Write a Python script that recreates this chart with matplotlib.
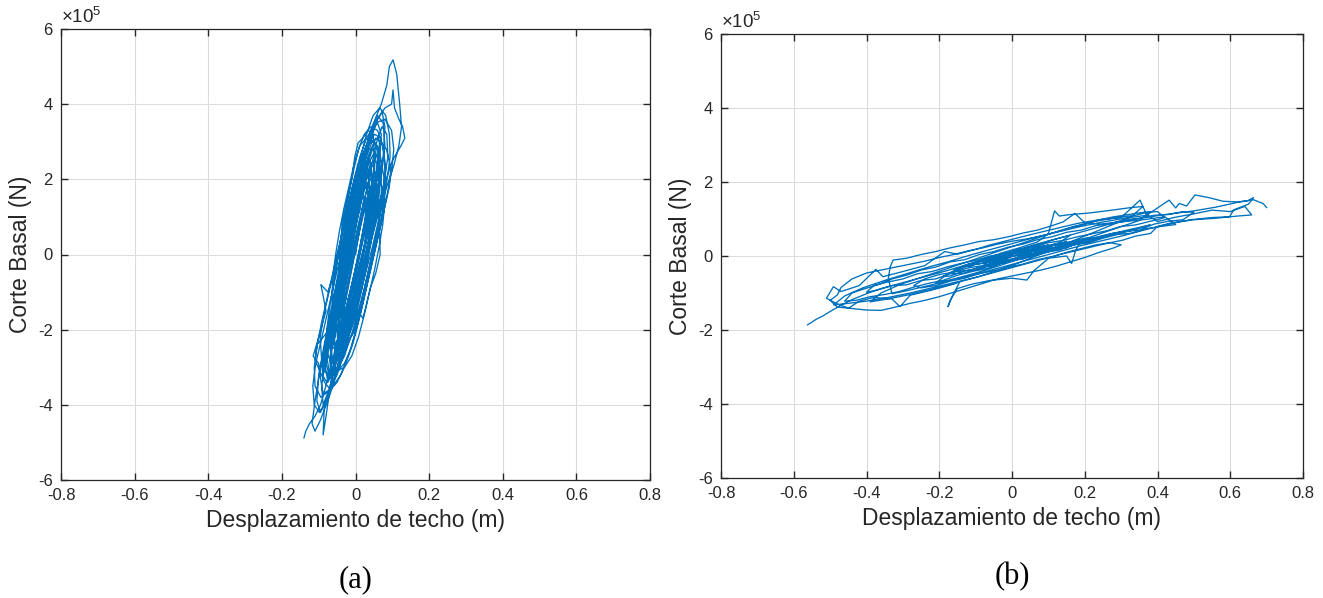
import numpy as np
import matplotlib
matplotlib.use('Agg')
import matplotlib.pyplot as plt

plt.rcParams['font.family'] = ['Liberation Sans', 'DejaVu Sans']
plt.rcParams['axes.unicode_minus'] = False
plt.rcParams['mathtext.fontset'] = 'custom'
plt.rcParams['mathtext.rm'] = 'Liberation Sans'

# (a) roof displacement [m] vs base shear [x1e5 N]
pts_a = [
    (0.000, 0.0), (0.010, 0.6), (0.022, 1.2), (0.030, 1.5), (0.040, 1.3), (0.030, 0.5), (0.010, -0.4),
    (-0.012, -1.1), (-0.028, -1.6), (-0.036, -1.8), (-0.040, -1.5),
    (-0.035, -1.0), (-0.020, -0.2), (-0.004, 0.6), (0.012, 1.4), (0.030, 2.0), (0.042, 2.2), (0.050, 1.9),
    (0.045, 1.2), (0.030, 0.4), (0.012, -0.4), (-0.010, -1.2), (-0.032, -2.0), (-0.050, -2.5), (-0.058, -2.3),
    (-0.055, -1.8), (-0.040, -1.0), (-0.022, -0.1), (-0.005, 0.9), (0.015, 1.8), (0.035, 2.6), (0.052, 3.0),
    (0.064, 2.8), (0.068, 2.2), (0.055, 1.3), (0.036, 0.4), (0.015, -0.5), (-0.010, -1.4), (-0.035, -2.3),
    (-0.058, -3.0), (-0.072, -3.2), (-0.080, -2.9),
    (-0.075, -2.2), (-0.060, -1.4), (-0.042, -0.5), (-0.022, 0.5), (-0.004, 1.5), (0.018, 2.4), (0.040, 3.2),
    (0.060, 3.7), (0.075, 3.5), (0.080, 2.9), (0.070, 2.1), (0.050, 1.0), (0.030, 0.0), (0.005, -1.0),
    (-0.020, -2.0), (-0.048, -3.0), (-0.075, -3.8), (-0.095, -4.2), (-0.105, -3.9),
    (-0.100, -3.2), (-0.085, -2.4), (-0.065, -1.4), (-0.045, -0.4), (-0.025, 0.6), (-0.005, 1.6), (0.020, 2.6),
    (0.045, 3.4), (0.070, 4.0), (0.085, 4.5), (0.092, 5.0), (0.102, 5.18), (0.112, 4.8), (0.120, 4.0),
    (0.125, 3.4), (0.118, 2.9), (0.105, 2.4), (0.085, 1.8), (0.060, 1.0), (0.035, 0.1), (0.010, -0.9),
    (-0.018, -2.0), (-0.045, -3.0), (-0.072, -3.8), (-0.095, -4.4), (-0.110, -4.7), (-0.118, -4.5),
    (-0.110, -3.9), (-0.095, -3.0), (-0.075, -2.0), (-0.055, -1.0), (-0.035, 0.0), (-0.012, 1.0), (0.010, 2.0),
    (0.035, 2.9), (0.060, 3.6), (0.080, 3.9), (0.098, 4.0), (0.102, 4.38), (0.106, 3.9), (0.118, 3.6),
    (0.128, 3.4), (0.134, 3.1), (0.124, 2.9), (0.100, 2.5), (0.080, 1.9), (0.058, 1.1), (0.035, 0.3),
    (0.012, -0.6), (-0.012, -1.6), (-0.040, -2.7), (-0.065, -3.5), (-0.085, -4.1), (-0.088, -4.8), (-0.080, -4.3),
    (-0.070, -3.6), (-0.058, -2.8), (-0.040, -1.8), (-0.020, -0.8), (0.000, 0.2), (0.020, 1.2), (0.040, 2.2),
    (0.058, 3.0), (0.072, 3.4), (0.085, 3.2), (0.088, 2.6), (0.075, 1.8), (0.055, 0.9), (0.032, -0.1),
    (0.008, -1.1), (-0.018, -2.1), (-0.045, -3.0), (-0.070, -3.6), (-0.088, -3.7), (-0.095, -3.3),
    (-0.100, -2.9), (-0.115, -2.7), (-0.100, -2.2), (-0.080, -1.5), (-0.094, -0.8), (-0.075, -1.0),
    (-0.055, -0.4), (-0.035, 0.4), (-0.015, 1.3), (0.005, 2.1), (0.025, 2.8), (0.045, 3.3), (0.060, 3.5),
    (0.070, 3.2), (0.066, 2.5), (0.050, 1.7), (0.030, 0.8), (0.010, -0.1), (-0.012, -1.0), (-0.035, -2.0),
    (-0.058, -2.9), (-0.078, -3.4), (-0.090, -3.2),
    (-0.082, -2.6), (-0.065, -1.8), (-0.048, -1.0), (-0.030, -0.1), (-0.010, 0.9), (0.010, 1.8), (0.030, 2.6),
    (0.045, 3.0), (0.058, 2.9), (0.062, 2.2), (0.064, 1.2), (0.067, 0.0), (0.055, -0.5), (0.040, -0.9),
    (0.028, -1.4), (0.020, -1.7), (0.008, -1.5), (-0.010, -1.9), (-0.030, -2.6), (-0.050, -3.2),
    (-0.062, -3.4), (-0.068, -3.0),
    (-0.062, -2.3), (-0.055, -1.5), (-0.045, -0.6), (-0.040, 0.3), (-0.036, 0.84), (-0.028, 1.2),
    (-0.015, 1.8), (-0.009, 2.06), (-0.002, 2.6), (0.007, 2.97), (0.020, 3.1), (0.035, 3.3), (0.048, 3.2),
    (0.052, 2.6), (0.045, 1.8), (0.030, 1.0), (0.015, 0.2), (-0.002, -0.6), (-0.020, -1.5), (-0.040, -2.4),
    (-0.060, -3.1), (-0.075, -3.4), (-0.082, -3.0),
    (-0.070, -2.4), (-0.050, -1.4), (-0.030, -0.4), (-0.010, 0.6), (0.010, 1.6), (0.028, 2.3), (0.040, 2.5),
    (0.045, 2.0), (0.035, 1.2), (0.018, 0.4), (0.000, -0.5), (-0.020, -1.4), (-0.040, -2.2), (-0.055, -2.6),
    (-0.060, -2.2),
    (-0.048, -1.5), (-0.032, -0.7), (-0.015, 0.2), (0.002, 1.0), (0.020, 1.8), (0.035, 2.4), (0.050, 2.7),
    (0.058, 2.4), (0.052, 1.6), (0.038, 0.8), (0.020, 0.0), (0.002, -0.8), (-0.018, -1.6), (-0.038, -2.3),
    (-0.052, -2.7), (-0.058, -2.4),
    (-0.052, -1.7), (-0.040, -0.9), (-0.025, 0.0), (-0.008, 0.9), (0.010, 1.8), (0.028, 2.6), (0.045, 3.2),
    (0.060, 3.6), (0.072, 3.8), (0.080, 3.4), (0.075, 2.6), (0.060, 1.8), (0.042, 0.9), (0.022, 0.0),
    (0.000, -0.9), (-0.025, -1.9), (-0.050, -2.8), (-0.072, -3.6), (-0.088, -4.0), (-0.092, -3.5),
    (-0.080, -2.7), (-0.062, -1.8), (-0.045, -0.9), (-0.025, 0.1), (-0.005, 1.0), (0.015, 1.9), (0.035, 2.6),
    (0.055, 3.1), (0.065, 3.0), (0.062, 2.3), (0.048, 1.4), (0.030, 0.5), (0.010, -0.4), (-0.010, -1.3),
    (-0.030, -2.2), (-0.050, -3.0), (-0.065, -3.3), (-0.070, -2.8),
    (-0.060, -2.0), (-0.042, -1.1), (-0.022, -0.2), (-0.004, 0.7), (0.014, 1.5), (0.030, 2.1), (0.042, 2.3),
    (0.044, 1.8), (0.032, 1.0), (0.015, 0.2), (-0.003, -0.6), (-0.022, -1.4), (-0.040, -2.0), (-0.048, -2.1),
    (-0.045, -1.6),
    (-0.030, -0.8), (-0.014, 0.0), (0.002, 0.8), (0.018, 1.5), (0.030, 1.9), (0.034, 1.6), (0.025, 0.9),
    (0.010, 0.1), (-0.008, -0.7), (-0.025, -1.4), (-0.038, -1.7), (-0.036, -1.2),
    (-0.022, -0.4), (-0.006, 0.4), (0.010, 1.2), (0.026, 1.9), (0.040, 2.4), (0.050, 2.5), (0.048, 1.9),
    (0.034, 1.1), (0.016, 0.3), (-0.004, -0.6), (-0.024, -1.5), (-0.044, -2.3), (-0.060, -2.9), (-0.066, -2.6),
    (-0.058, -1.8), (-0.042, -0.9), (-0.024, 0.0), (-0.006, 0.8), (0.012, 1.6), (0.030, 2.3), (0.046, 2.8),
    (0.054, 2.7), (0.050, 2.0), (0.036, 1.2), (0.018, 0.4), (0.000, -0.4), (-0.020, -1.2), (-0.040, -2.0),
    (-0.056, -2.5), (-0.060, -2.1),
    (-0.052, -2.6), (-0.060, -2.2), (-0.058, -1.6), (-0.050, -1.0), (-0.040, -0.4), (-0.028, 0.2),
    (-0.016, 0.8), (-0.004, 1.4), (0.008, 2.0), (0.020, 2.5), (0.034, 2.8), (0.050, 2.8), (0.062, 2.5),
    (0.070, 2.0), (0.070, 1.4), (0.062, 0.8), (0.050, 0.2), (0.036, -0.4), (0.022, -1.0), (0.008, -1.6),
    (-0.008, -2.1), (-0.026, -2.5), (-0.044, -2.7),
    (-0.070, -3.2), (-0.080, -2.6), (-0.078, -2.0), (-0.070, -1.4), (-0.060, -0.8), (-0.050, -0.2),
    (-0.040, 0.4), (-0.030, 1.0), (-0.018, 1.6), (-0.006, 2.2), (0.008, 2.8), (0.024, 3.2), (0.042, 3.4),
    (0.060, 3.3), (0.074, 2.9), (0.082, 2.3), (0.080, 1.7), (0.072, 1.1), (0.060, 0.5), (0.046, -0.1),
    (0.032, -0.7), (0.018, -1.3), (0.004, -1.9), (-0.012, -2.5), (-0.030, -3.0), (-0.050, -3.4),
    (-0.068, -3.6), (-0.084, -3.4),
    (-0.110, -2.8), (-0.104, -2.4), (-0.092, -1.8), (-0.078, -1.2), (-0.064, -0.6), (-0.050, 0.0),
    (-0.036, 0.6), (-0.022, 1.2), (-0.008, 1.8), (0.008, 2.4), (0.030, 2.9), (0.060, 3.1), (0.084, 2.8),
    (0.096, 2.3), (0.092, 1.8), (0.078, 1.2), (0.064, 0.6), (0.050, 0.0), (0.036, -0.6), (0.022, -1.2),
    (0.008, -1.8), (-0.008, -2.4), (-0.030, -2.9), (-0.060, -3.2), (-0.090, -3.1),
    (-0.096, -2.2), (-0.086, -1.6), (-0.072, -1.0), (-0.058, -0.4), (-0.044, 0.2), (-0.030, 0.8),
    (-0.016, 1.4), (0.002, 1.9), (0.026, 2.2), (0.052, 2.1), (0.072, 1.8), (0.078, 1.3), (0.068, 0.8),
    (0.054, 0.2), (0.040, -0.4), (0.026, -1.0), (0.012, -1.6), (-0.006, -2.1), (-0.030, -2.4),
    (-0.058, -2.5), (-0.080, -2.3),
    (-0.090, -3.0), (-0.082, -2.4), (-0.066, -1.8), (-0.052, -1.2), (-0.040, -0.6), (-0.030, 0.0),
    (-0.020, 0.6), (-0.010, 1.2), (0.002, 1.8), (0.016, 2.2), (0.032, 2.3), (0.046, 2.0), (0.052, 1.5),
    (0.050, 0.9), (0.042, 0.3), (0.030, -0.3), (0.018, -0.9), (0.004, -1.5), (-0.012, -2.0), (-0.030, -2.3),
    (-0.046, -2.2),
    (-0.050, -2.0), (-0.036, -1.4), (-0.022, -0.8), (-0.008, -0.2), (0.006, 0.4), (0.020, 1.0), (0.034, 1.6),
    (0.050, 2.0), (0.062, 1.8), (0.060, 1.2), (0.046, 0.6), (0.032, 0.0), (0.018, -0.6), (0.004, -1.2),
    (-0.010, -1.8), (-0.030, -2.2), (-0.048, -2.2),
    (-0.040, -1.4), (-0.026, -0.8), (-0.012, -0.2), (0.002, 0.4), (0.016, 1.0), (0.030, 1.4), (0.040, 1.2),
    (0.034, 0.6), (0.020, 0.0), (0.006, -0.6), (-0.008, -1.2), (-0.024, -1.6), (-0.036, -1.5),
    (-0.030, -0.9), (-0.018, -0.3), (-0.004, 0.3), (0.010, 0.9), (0.024, 1.5), (0.040, 2.0), (0.056, 2.2),
    (0.066, 1.9), (0.060, 1.3), (0.046, 0.7), (0.030, 0.1), (0.014, -0.5), (-0.002, -1.1), (-0.018, -1.7),
    (-0.036, -2.2), (-0.056, -2.4), (-0.068, -2.0),
    (-0.060, -1.4), (-0.046, -0.8), (-0.032, -0.2), (-0.018, 0.4), (-0.004, 1.0), (0.010, 1.5), (0.026, 1.8),
    (0.040, 1.6), (0.040, 1.0), (0.028, 0.4), (0.012, -0.2), (-0.004, -0.8), (-0.020, -1.4), (-0.040, -1.9),
    (-0.058, -2.0),
    (-0.056, -2.2), (-0.062, -1.6), (-0.062, -1.0), (-0.054, -0.4), (-0.044, 0.2), (-0.032, 0.8),
    (-0.018, 1.4), (-0.004, 2.0), (0.012, 2.6), (0.030, 3.1), (0.054, 3.5), (0.080, 3.6), (0.098, 3.3),
    (0.104, 2.8), (0.098, 2.2), (0.086, 1.6), (0.074, 1.0), (0.060, 0.4), (0.046, -0.2), (0.032, -0.8),
    (0.018, -1.4), (0.002, -2.0), (-0.016, -2.6), (-0.040, -3.2), (-0.068, -3.6), (-0.094, -3.8),
    (-0.110, -3.5), (-0.112, -3.0), (-0.104, -2.4),
    (-0.056, -1.8), (-0.064, -1.2), (-0.062, -0.6), (-0.054, 0.0), (-0.044, 0.6), (-0.032, 1.2),
    (-0.018, 1.8), (-0.004, 2.4), (0.012, 2.9), (0.030, 3.1), (0.050, 3.0), (0.068, 2.6), (0.078, 2.0),
    (0.080, 1.4), (0.074, 0.8), (0.064, 0.2), (0.052, -0.4), (0.038, -1.0), (0.024, -1.6), (0.008, -2.2),
    (-0.010, -2.7), (-0.030, -3.0), (-0.050, -3.1), (-0.066, -2.8),
    (-0.070, -2.2), (-0.062, -1.6), (-0.050, -1.0), (-0.036, -0.4), (-0.022, 0.2), (-0.010, 0.8),
    (0.002, 1.4), (0.016, 1.8), (0.032, 1.9), (0.042, 1.6), (0.044, 1.0), (0.036, 0.4), (0.024, -0.2),
    (0.010, -0.8), (-0.006, -1.3), (-0.022, -1.6), (-0.036, -1.5),
    (-0.046, -1.0), (-0.044, -0.4), (-0.036, 0.2), (-0.026, 0.8), (-0.014, 1.4), (0.000, 2.0), (0.014, 2.6),
    (0.030, 3.2), (0.048, 3.7), (0.066, 3.9), (0.082, 3.7), (0.092, 3.2), (0.094, 2.6), (0.086, 2.0),
    (0.074, 1.4), (0.060, 0.8), (0.046, 0.2), (0.030, -0.4), (0.014, -1.0), (-0.002, -1.6), (-0.020, -2.2),
    (-0.040, -2.8), (-0.060, -3.4), (-0.080, -3.9), (-0.098, -4.2), (-0.112, -4.0), (-0.116, -3.5),
    (-0.108, -2.9),
    (-0.096, -2.4), (-0.082, -1.8), (-0.068, -1.2), (-0.054, -0.6), (-0.040, 0.0), (-0.026, 0.6),
    (-0.012, 1.2), (0.002, 1.8), (0.018, 2.3), (0.036, 2.5), (0.050, 2.3), (0.058, 1.8), (0.056, 1.2),
    (0.046, 0.6), (0.032, 0.0), (0.018, -0.6), (0.002, -1.2), (-0.014, -1.8), (-0.032, -2.3), (-0.052, -2.7),
    (-0.070, -2.8), (-0.082, -2.5),
    (-0.060, -1.6), (-0.044, -1.0), (-0.030, -0.4), (-0.016, 0.2), (-0.002, 0.8), (0.012, 1.2), (0.026, 1.2),
    (0.030, 0.8), (0.024, 0.2), (0.012, -0.4), (-0.004, -0.9), (-0.020, -1.2), (-0.034, -1.1),
    (-0.040, -0.6), (-0.032, 0.0), (-0.022, 0.6), (-0.010, 1.2), (0.004, 1.8), (0.018, 2.4), (0.034, 2.9),
    (0.052, 3.2), (0.068, 3.1), (0.078, 2.7), (0.080, 2.1), (0.074, 1.5), (0.064, 0.9), (0.052, 0.3),
    (0.038, -0.3), (0.024, -0.9), (0.008, -1.5), (-0.010, -2.1), (-0.030, -2.7), (-0.052, -3.1),
    (-0.072, -3.3), (-0.086, -3.0),
    (-0.045, -1.2), (-0.028, -0.3), (-0.010, 0.6), (0.008, 1.4), (0.024, 2.0), (0.036, 2.2), (0.038, 1.7),
    (0.026, 0.9), (0.008, 0.0), (-0.012, -0.9), (-0.032, -1.8), (-0.048, -2.3), (-0.052, -1.9),
    (-0.040, -1.1), (-0.025, -0.2), (-0.008, 0.6), (0.010, 1.4), (0.020, 1.8), (0.022, 1.4), (0.010, 0.6),
    (-0.008, -0.3), (-0.028, -1.3), (-0.050, -2.3), (-0.072, -3.2), (-0.095, -4.0), (-0.110, -4.3),
    (-0.125, -4.5), (-0.135, -4.7), (-0.140, -4.88),
]

# (b) roof displacement [m] vs base shear [x1e5 N]
pts_b = [
    (-0.562, -1.86), (-0.552, -1.80), (-0.540, -1.72), (-0.520, -1.62), (-0.500, -1.50), (-0.470, -1.33),
    (-0.440, -1.18), (-0.400, -1.02), (-0.360, -0.88), (-0.300, -0.72), (-0.240, -0.56), (-0.180, -0.40),
    (-0.120, -0.22), (-0.060, -0.04), (0.000, 0.12), (0.060, 0.30), (0.120, 0.46), (0.160, 0.56),
    (0.130, 0.36), (0.080, 0.15), (0.020, -0.08), (-0.040, -0.28), (-0.100, -0.46), (-0.160, -0.62),
    (-0.210, -0.74), (-0.180, -0.50), (-0.130, -0.30), (-0.080, -0.10), (-0.030, 0.08), (0.020, 0.22),
    (0.070, 0.38), (0.100, 0.60), (0.117, 1.22), (0.130, 1.08), (0.160, 1.12), (0.210, 1.16), (0.260, 1.22),
    (0.320, 1.30), (0.360, 1.34), (0.330, 1.08), (0.280, 0.86), (0.220, 0.62), (0.170, 0.42), (0.120, 0.22),
    (0.070, 0.02), (0.020, -0.18), (-0.040, -0.40), (-0.100, -0.58), (-0.160, -0.74), (-0.220, -0.90),
    (-0.280, -1.04), (-0.340, -1.16), (-0.390, -1.24), (-0.360, -1.00), (-0.310, -0.78), (-0.250, -0.58),
    (-0.190, -0.38), (-0.130, -0.18), (-0.070, 0.02), (-0.010, 0.22), (0.050, 0.42), (0.110, 0.62),
    (0.170, 0.80), (0.230, 0.94), (0.290, 1.04), (0.340, 1.10), (0.380, 1.20), (0.350, 0.96), (0.290, 0.76),
    (0.230, 0.56), (0.190, 0.42), (0.175, 0.15), (0.164, -0.20), (0.150, 0.00), (0.100, -0.06),
    (0.090, -0.15), (0.060, -0.40), (0.041, -0.65), (0.000, -0.60), (-0.060, -0.66), (-0.110, -0.76),
    (-0.150, -0.88), (-0.170, -1.20), (-0.176, -1.37), (-0.165, -1.10), (-0.143, -0.69), (-0.160, -0.76),
    (-0.220, -0.92), (-0.280, -1.06), (-0.308, -1.37), (-0.330, -1.16), (-0.380, -1.12), (-0.420, -1.22),
    (-0.449, -1.41), (-0.480, -1.30), (-0.510, -1.14), (-0.491, -0.83), (-0.470, -0.96), (-0.420, -0.80),
    (-0.374, -0.36), (-0.355, -0.56), (-0.300, -0.42), (-0.240, -0.26), (-0.185, 0.12), (-0.150, 0.05),
    (-0.100, 0.18), (-0.060, 0.30), (0.000, 0.45), (0.060, 0.60), (0.120, 0.74), (0.180, 0.88),
    (0.240, 0.98), (0.300, 1.04), (0.352, 1.51), (0.370, 1.12), (0.400, 0.93), (0.450, 1.05), (0.500, 1.14),
    (0.550, 1.24), (0.600, 1.20), (0.640, 1.34), (0.659, 1.11), (0.620, 1.08), (0.560, 1.02), (0.500, 0.98),
    (0.440, 0.90), (0.400, 0.80), (0.381, 0.61), (0.340, 0.54), (0.305, 0.43), (0.260, 0.34), (0.200, 0.20),
    (0.140, 0.06), (0.080, -0.10), (0.020, -0.26), (-0.040, -0.42), (-0.100, -0.58), (-0.160, -0.72),
    (-0.220, -0.86), (-0.280, -1.00), (-0.340, -1.12), (-0.400, -1.22), (-0.450, -1.28), (-0.490, -1.32),
    (-0.460, -1.08), (-0.410, -0.86), (-0.350, -0.66), (-0.290, -0.48), (-0.230, -0.30), (-0.170, -0.14),
    (-0.110, 0.04), (-0.050, 0.20), (0.010, 0.36), (0.070, 0.52), (0.130, 0.66), (0.190, 0.80),
    (0.250, 0.92), (0.310, 1.02), (0.370, 1.10), (0.432, 1.51), (0.450, 1.30), (0.460, 1.42), (0.480, 1.35),
    (0.503, 1.65), (0.540, 1.58), (0.580, 1.48), (0.620, 1.46), (0.650, 1.50), (0.664, 1.58), (0.650, 1.40),
    (0.610, 1.25), (0.598, 1.06), (0.550, 1.04), (0.490, 0.98), (0.430, 0.86), (0.370, 0.72), (0.310, 0.56),
    (0.250, 0.42), (0.190, 0.28), (0.130, 0.12), (0.070, -0.04), (0.010, -0.20), (-0.050, -0.36),
    (-0.110, -0.52), (-0.170, -0.66), (-0.230, -0.80), (-0.290, -0.94), (-0.330, -1.02), (-0.340, -0.60),
    (-0.335, -0.30), (-0.327, -0.11), (-0.290, -0.06), (-0.250, 0.04), (-0.210, 0.12), (-0.170, 0.22),
    (-0.130, 0.30), (-0.091, 0.39), (-0.050, 0.44), (-0.010, 0.52), (0.030, 0.62), (0.070, 0.70),
    (0.110, 0.82), (0.140, 0.92), (0.173, 1.15), (0.200, 0.90), (0.240, 0.86), (0.300, 0.92), (0.360, 0.98),
    (0.420, 1.06), (0.450, 0.85), (0.410, 0.80), (0.370, 0.74), (0.330, 0.62), (0.290, 0.58), (0.250, 0.48),
    (0.210, 0.36), (0.170, 0.30), (0.130, 0.16), (0.090, 0.10), (0.050, -0.02), (0.010, -0.12),
    (-0.030, -0.20), (-0.070, -0.34), (-0.110, -0.42), (-0.150, -0.52), (-0.190, -0.66), (-0.230, -0.74),
    (-0.270, -0.84), (-0.310, -0.96), (-0.350, -1.04), (-0.390, -1.10), (-0.430, -1.20), (-0.460, -1.22),
    (-0.440, -1.00), (-0.410, -0.90), (-0.370, -0.78), (-0.330, -0.62), (-0.290, -0.52), (-0.250, -0.38),
    (-0.210, -0.30), (-0.170, -0.16), (-0.130, -0.10), (-0.090, 0.04), (-0.050, 0.12), (-0.010, 0.24),
    (0.030, 0.32), (0.070, 0.44), (0.110, 0.52), (0.150, 0.64), (0.190, 0.70), (0.230, 0.82), (0.270, 0.88),
    (0.310, 0.98), (0.350, 1.02), (0.390, 1.10), (0.430, 1.12), (0.470, 1.20), (0.500, 1.18),
    (0.470, 0.98), (0.430, 0.94), (0.390, 0.86), (0.350, 0.70), (0.310, 0.66), (0.270, 0.60), (0.230, 0.44),
    (0.190, 0.40), (0.150, 0.22), (0.110, 0.18), (0.070, 0.08), (0.030, -0.08), (-0.010, -0.10),
    (-0.050, -0.26), (-0.090, -0.30), (-0.130, -0.46), (-0.170, -0.48), (-0.210, -0.62), (-0.250, -0.66),
    (-0.290, -0.78), (-0.330, -0.80), (-0.370, -0.92), (-0.400, -0.98), (-0.380, -0.80),
    (-0.340, -0.70), (-0.300, -0.62), (-0.260, -0.48), (-0.220, -0.42), (-0.180, -0.30), (-0.140, -0.20),
    (-0.100, -0.12), (-0.060, 0.00), (-0.020, 0.06), (0.020, 0.18), (0.060, 0.24), (0.100, 0.36),
    (0.140, 0.42), (0.180, 0.52), (0.220, 0.60), (0.260, 0.68), (0.300, 0.80), (0.340, 0.84), (0.380, 0.94),
    (0.400, 0.98), (0.420, 1.04), (0.400, 1.20), (0.360, 1.18), (0.320, 1.12), (0.280, 1.06),
    (0.240, 0.98), (0.200, 0.86), (0.160, 0.76), (0.120, 0.64), (0.080, 0.54), (0.040, 0.46),
    (0.000, 0.40), (-0.040, 0.32), (-0.080, 0.22), (-0.120, 0.14), (-0.160, 0.04), (-0.200, -0.04),
    (-0.240, -0.14), (-0.280, -0.22), (-0.320, -0.30), (-0.360, -0.38), (-0.400, -0.46), (-0.440, -0.62),
    (-0.470, -0.85), (-0.480, -1.05), (-0.500, -1.20), (-0.480, -1.38), (-0.440, -1.42), (-0.400, -1.46),
    (-0.360, -1.47), (-0.320, -1.38), (-0.280, -1.28), (-0.240, -1.20), (-0.200, -1.10), (-0.160, -0.98),
    (-0.120, -0.86), (-0.080, -0.74), (-0.040, -0.62), (0.000, -0.54), (0.040, -0.46), (0.080, -0.38),
    (0.120, -0.28), (0.160, -0.16), (0.200, -0.04), (0.240, 0.10), (0.280, 0.22), (0.300, 0.30),
    (0.270, 0.36), (0.230, 0.30), (0.190, 0.20), (0.150, 0.10), (0.110, -0.02), (0.070, -0.10),
    (0.030, -0.22), (-0.010, -0.30), (-0.050, -0.40), (-0.090, -0.48), (-0.130, -0.60), (-0.170, -0.68),
    (-0.210, -0.80), (-0.250, -0.86), (-0.270, -0.80), (-0.240, -0.62), (-0.200, -0.50), (-0.160, -0.44),
    (-0.120, -0.32), (-0.080, -0.26), (-0.040, -0.14), (0.000, -0.08), (0.040, 0.04), (0.080, 0.10),
    (0.120, 0.22), (0.160, 0.28), (0.200, 0.40), (0.240, 0.50), (0.260, 0.56), (0.230, 0.48),
    (0.190, 0.36), (0.150, 0.24), (0.110, 0.14), (0.070, 0.02), (0.030, -0.04), (-0.010, -0.16),
    (-0.050, -0.22), (-0.090, -0.36), (-0.130, -0.40), (-0.170, -0.54), (-0.190, -0.56), (-0.160, -0.40),
    (-0.120, -0.26), (-0.080, -0.20), (-0.040, -0.06), (0.000, 0.00), (0.040, 0.12), (0.080, 0.18),
    (0.120, 0.30), (0.160, 0.34), (0.190, 0.42), (0.380, 0.84), (0.340, 0.72), (0.300, 0.62), (0.260, 0.54),
    (0.220, 0.40), (0.180, 0.32),
    (0.140, 0.26), (0.100, 0.12), (0.060, 0.06), (0.020, -0.06), (-0.020, -0.14), (-0.060, -0.24),
    (-0.100, -0.34), (-0.140, -0.42), (-0.160, -0.38), (-0.120, -0.22), (-0.080, -0.14), (-0.040, -0.02),
    (0.000, 0.06), (0.040, 0.16), (0.080, 0.22), (0.120, 0.34), (0.160, 0.38), (0.200, 0.48), (0.220, 0.50),
    (0.180, 0.36), (0.140, 0.30), (0.100, 0.18), (0.060, 0.14), (0.020, 0.02), (-0.020, -0.04),
    (-0.060, -0.16), (-0.100, -0.22), (-0.120, -0.30), (-0.080, -0.10), (-0.040, -0.04), (0.000, 0.10),
    (0.040, 0.14), (0.080, 0.26), (0.120, 0.30), (0.150, 0.40), (0.120, 0.24), (0.080, 0.18), (0.040, 0.06),
    (0.000, 0.00), (-0.040, -0.12), (-0.080, -0.18), (-0.050, -0.04), (-0.010, 0.02), (0.030, 0.14),
    (0.070, 0.20), (0.100, 0.30), (0.060, 0.20), (0.010, 0.02), (-0.040, -0.16), (-0.090, -0.34),
    (-0.060, -0.12), (-0.010, 0.06), (0.040, 0.22), (0.080, 0.34), (0.050, 0.10), (0.000, -0.10),
    (-0.050, -0.26), (-0.020, -0.02), (0.030, 0.16), (0.100, 0.40), (0.180, 0.62), (0.260, 0.84),
    (0.340, 1.00), (0.420, 1.12), (0.500, 1.22), (0.560, 1.32), (0.620, 1.45), (0.664, 1.52),
    (0.690, 1.42), (0.700, 1.31),
]

disp_a = np.array([p[0] for p in pts_a])
shear_a = np.array([p[1] for p in pts_a])
disp_b = np.array([p[0] for p in pts_b])
shear_b = np.array([p[1] for p in pts_b])

x_ticks = [-0.8, -0.6, -0.4, -0.2, 0, 0.2, 0.4, 0.6, 0.8]
x_ticklabels = ['-0.8', '-0.6', '-0.4', '-0.2', '0', '0.2', '0.4', '0.6', '0.8']
y_ticks = [-6, -4, -2, 0, 2, 4, 6]
y_ticklabels = ['-6', '-4', '-2', '0', '2', '4', '6']

line_color = '#0072BD'
txt_color = '#262626'

W, H = 1323, 598
fig = plt.figure(figsize=(W / 100, H / 100), dpi=100)
ax_a = fig.add_axes([61 / W, (H - 480) / H, 589 / W, 451 / H])
ax_b = fig.add_axes([721 / W, (H - 478) / H, 582 / W, 444 / H])

for ax, xs, ys, tag in [(ax_a, disp_a, shear_a, '(a)'), (ax_b, disp_b, shear_b, '(b)')]:
    ax.plot(xs, ys, color=line_color, lw=0.95)
    ax.set_xlim(-0.8, 0.8)
    ax.set_ylim(-6, 6)
    ax.set_xticks(x_ticks)
    ax.set_xticklabels(x_ticklabels)
    ax.set_yticks(y_ticks)
    ax.set_yticklabels(y_ticklabels)
    ax.grid(True, color='#dcdcdc', lw=0.8)
    ax.set_axisbelow(True)
    ax.tick_params(direction='in', length=5, width=1.0, top=True, right=True,
                   labelsize=12, colors=txt_color, pad=6)
    for s in ax.spines.values():
        s.set_color(txt_color)
        s.set_linewidth(0.9)
    ax.set_xlabel('Desplazamiento de techo (m)', fontsize=16.5, color=txt_color, labelpad=4)
    ax.set_ylabel('Corte Basal (N)', fontsize=16.5, color=txt_color, labelpad=4)
    ax.text(0.0, 1.004, r'$\times10^{5}$', transform=ax.transAxes, fontsize=13.5,
            color=txt_color, ha='left', va='bottom')
    ax.text(0.5, -0.222, tag, transform=ax.transAxes, ha='center', va='center',
            fontsize=22, family='Liberation Serif', color='black')

fig.savefig('out.png', dpi=100)
